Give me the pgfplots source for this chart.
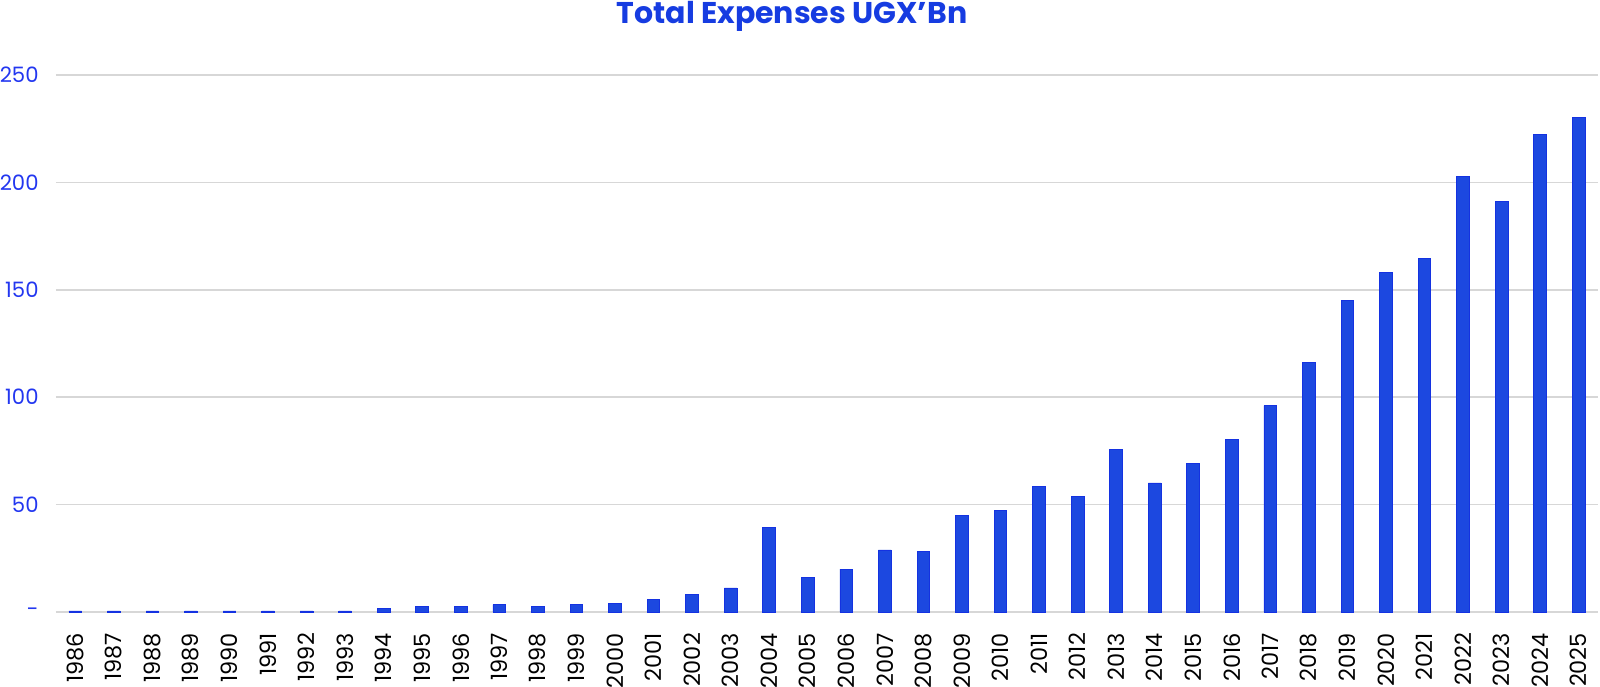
\documentclass[border=0pt]{standalone}
\usepackage{pgfplots}
\pgfplotsset{compat=1.18}
\usepackage{fontspec}
\setmainfont{Poppins}
\definecolor{barblue}{RGB}{28,72,224}
\definecolor{baredge}{RGB}{20,50,225}
\definecolor{tickblue}{RGB}{35,55,240}
\definecolor{titleblue}{RGB}{22,60,225}
\definecolor{gridgray}{RGB}{215,215,215}
\definecolor{baseline}{RGB}{200,200,240}
\pgfplotstableread{
x y
0 0.5
1 0.5
2 0.5
3 0.5
4 0.5
5 0.5
6 0.5
7 0.5
8 1.5
9 2.5
10 2.5
11 3.4
12 2.5
13 3.4
14 4.0
15 5.7
16 8.1
17 11.2
18 39.4
19 16.1
20 20.0
21 28.9
22 28.1
23 45.0
24 47.3
25 58.5
26 53.9
27 75.5
28 60.1
29 69.1
30 80.3
31 96.1
32 116.2
33 145.1
34 158.0
35 164.4
36 202.9
37 191.0
38 222.4
39 230.3
}\expenses
\begin{document}
\begin{tikzpicture}
\begin{axis}[
  scale only axis, width=771pt, height=268.5pt,
  xmin=-0.5, xmax=39.5, ymin=0, ymax=250,
  axis line style={draw=none},
  major tick length=0pt,
  ytick={50,100,150,200,250},
  yticklabels={50,100,150,200,250},
  extra y ticks={0},
  extra y tick labels={-\hspace{3pt}},
  extra y tick style={grid style={baseline, line width=0.75pt}},
  ymajorgrids,
  grid style={gridgray, line width=0.8pt},
  yticklabel style={anchor=east, inner sep=0pt, xshift=-8.5pt, text=tickblue, font=\fontsize{10.6}{12}\selectfont},
  xtick={0,...,39},
  xticklabels={1986,1987,1988,1989,1990,1991,1992,1993,1994,1995,1996,1997,1998,1999,2000,2001,2002,2003,2004,2005,2006,2007,2008,2009,2010,2011,2012,2013,2014,2015,2016,2017,2018,2019,2020,2021,2022,2023,2024,2025},
  xticklabel style={yshift=-10.35pt, rotate=90, anchor=east, inner sep=0pt, text=black, font=\fontsize{11.2}{13}\selectfont},
]
\addplot[ybar, bar width=6.35pt, fill=barblue, draw=baredge, line width=0.4pt] table[x=x, y=y] {\expenses};
\end{axis}
\node[anchor=base, font=\bfseries\fontsize{15}{17}\selectfont, text=titleblue] at (368pt,294pt) {Total Expenses UGX'Bn};
\pgfresetboundingbox
\useasboundingbox (-28pt,-37pt) rectangle (772pt,306pt);
\end{tikzpicture}
\end{document}
